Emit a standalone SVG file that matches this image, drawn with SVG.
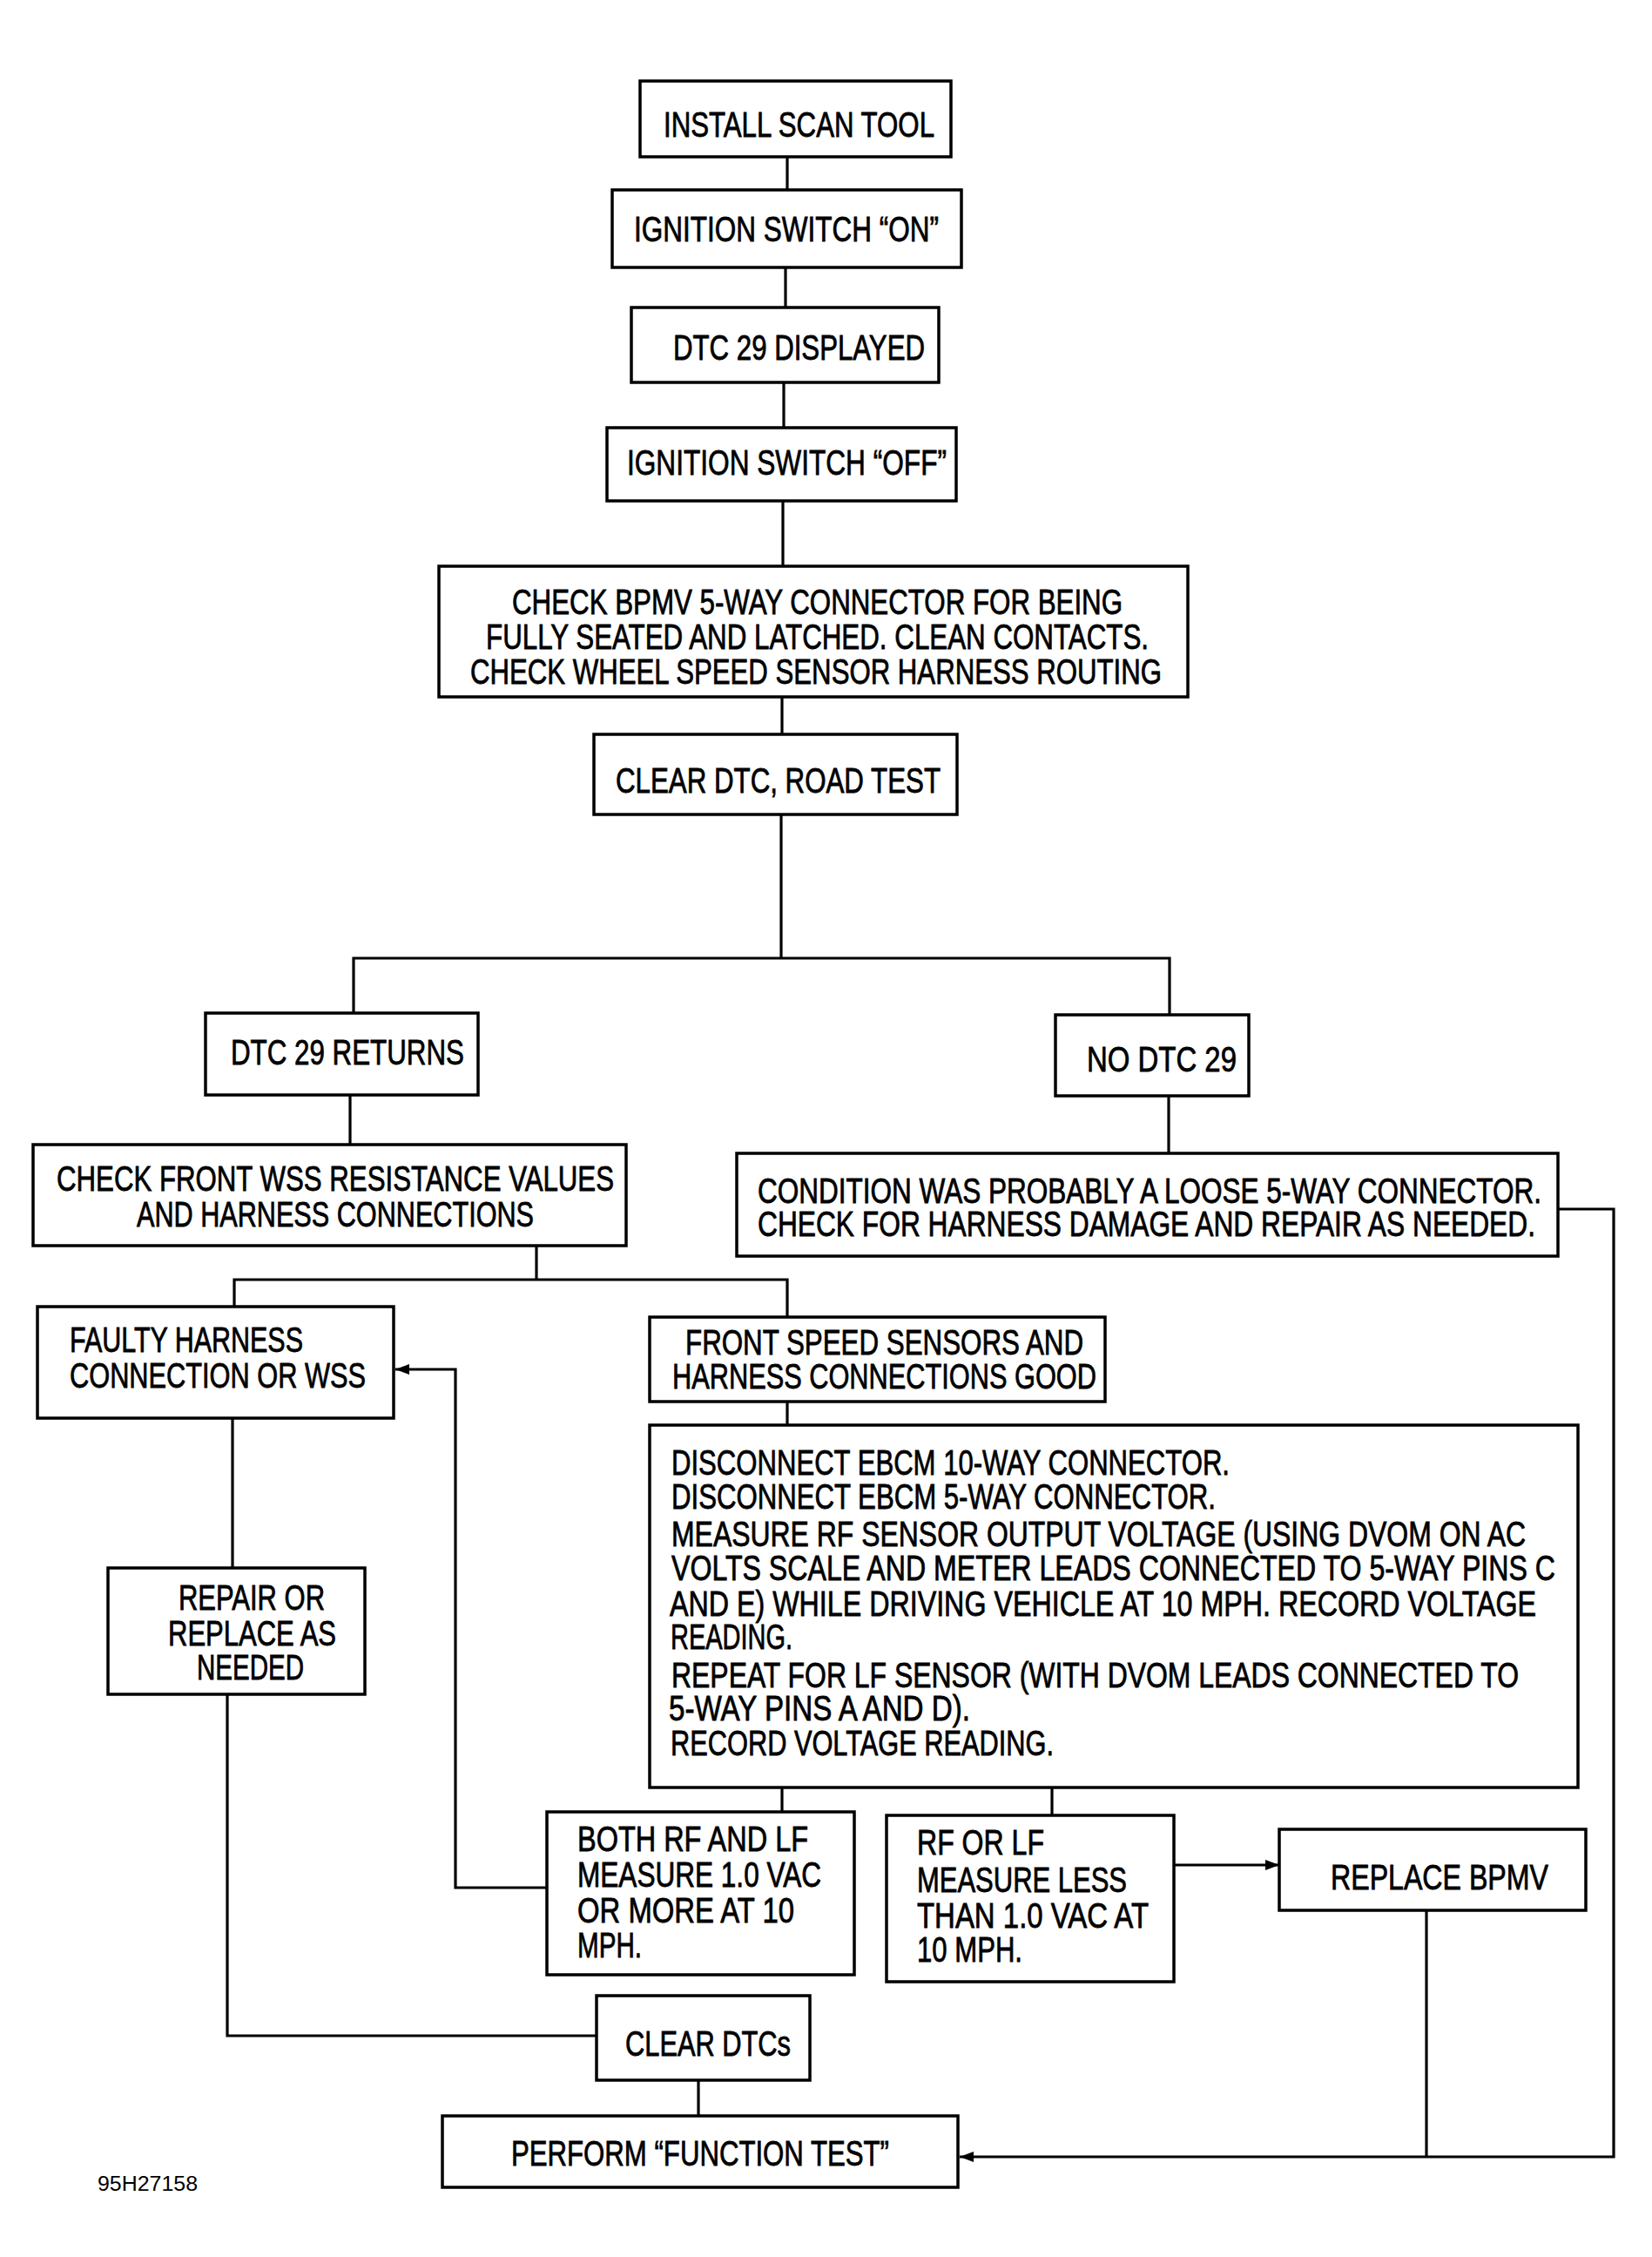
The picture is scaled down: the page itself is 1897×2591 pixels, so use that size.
<svg xmlns="http://www.w3.org/2000/svg" width="1897" height="2591" viewBox="0 0 1897 2591">
<defs>
<style>
.box{fill:#fff;stroke:#000;stroke-width:3.5}
.t{font-family:"Liberation Sans",Arial,sans-serif;font-size:40px;fill:#000;stroke:#000;stroke-width:0.8}
.c{fill:none;stroke:#000;stroke-width:3.2}
.id{font-family:"Liberation Sans",Arial,sans-serif;font-size:23px;fill:#000}
</style>
<marker id="arr" markerUnits="userSpaceOnUse" markerWidth="18" markerHeight="14" refX="16" refY="7" orient="auto">
<path d="M0,1 L16,7 L0,13 Z" fill="#000"/>
</marker>
</defs>
<rect width="1897" height="2591" fill="#fff"/>
<g id="connectors">
<path class="c" d="M904,180 V218"/>
<path class="c" d="M902,307 V353"/>
<path class="c" d="M900,439 V491"/>
<path class="c" d="M899,575 V650"/>
<path class="c" d="M898,800 V843"/>
<path class="c" d="M897,935 V1100"/>
<path class="c" d="M406,1163 V1100 H1343 V1165"/>
<path class="c" d="M402,1257 V1314"/>
<path class="c" d="M1342,1258 V1324"/>
<path class="c" d="M616,1430 V1469"/>
<path class="c" d="M269,1500 V1469 H904 V1512"/>
<path class="c" d="M904,1609 V1636"/>
<path class="c" d="M267,1628 V1800"/>
<path class="c" d="M261,1945 V2337 H685"/>
<path class="c" d="M628,2167 H523 V1572 H454" stroke-width="4" marker-end="url(#arr)"/>
<path class="c" d="M898,2052 V2080"/>
<path class="c" d="M1208,2052 V2084"/>
<path class="c" d="M1348,2141 H1469" marker-end="url(#arr)"/>
<path class="c" d="M1789,1388 H1853 V2476 H1102" marker-end="url(#arr)"/>
<path class="c" d="M1638,2193 V2476"/>
<path class="c" d="M802,2388 V2429"/>
</g>
<g id="n1"><rect class="box" x="735" y="93" width="357" height="87"/>
<text class="t" x="762" y="157" textLength="311" lengthAdjust="spacingAndGlyphs">INSTALL SCAN TOOL</text></g>
<g id="n2"><rect class="box" x="703" y="218" width="401" height="89"/>
<text class="t" x="728" y="277" textLength="350" lengthAdjust="spacingAndGlyphs">IGNITION SWITCH “ON”</text></g>
<g id="n3"><rect class="box" x="725" y="353" width="353" height="86"/>
<text class="t" x="773" y="413" textLength="289" lengthAdjust="spacingAndGlyphs">DTC 29 DISPLAYED</text></g>
<g id="n4"><rect class="box" x="697" y="491" width="401" height="84"/>
<text class="t" x="720" y="545" textLength="367" lengthAdjust="spacingAndGlyphs">IGNITION SWITCH “OFF”</text></g>
<g id="n5"><rect class="box" x="504" y="650" width="860" height="150"/>
<text class="t" x="588" y="705" textLength="701" lengthAdjust="spacingAndGlyphs">CHECK BPMV 5-WAY CONNECTOR FOR BEING</text>
<text class="t" x="558" y="745" textLength="761" lengthAdjust="spacingAndGlyphs">FULLY SEATED AND LATCHED. CLEAN CONTACTS.</text>
<text class="t" x="540" y="785" textLength="794" lengthAdjust="spacingAndGlyphs">CHECK WHEEL SPEED SENSOR HARNESS ROUTING</text></g>
<g id="n6"><rect class="box" x="682" y="843" width="417" height="92"/>
<text class="t" x="707" y="910" textLength="373" lengthAdjust="spacingAndGlyphs">CLEAR DTC, ROAD TEST</text></g>
<g id="n7"><rect class="box" x="236" y="1163" width="313" height="94"/>
<text class="t" x="265" y="1222" textLength="268" lengthAdjust="spacingAndGlyphs">DTC 29 RETURNS</text></g>
<g id="n8"><rect class="box" x="1212" y="1165" width="222" height="93"/>
<text class="t" x="1248" y="1230" textLength="172" lengthAdjust="spacingAndGlyphs">NO DTC 29</text></g>
<g id="n9"><rect class="box" x="38" y="1314" width="681" height="116"/>
<text class="t" x="65" y="1367" textLength="640" lengthAdjust="spacingAndGlyphs">CHECK FRONT WSS RESISTANCE VALUES</text>
<text class="t" x="157" y="1408" textLength="456" lengthAdjust="spacingAndGlyphs">AND HARNESS CONNECTIONS</text></g>
<g id="n10"><rect class="box" x="846" y="1324" width="943" height="118"/>
<text class="t" x="870" y="1381" textLength="900" lengthAdjust="spacingAndGlyphs">CONDITION WAS PROBABLY A LOOSE 5-WAY CONNECTOR.</text>
<text class="t" x="870" y="1419" textLength="893" lengthAdjust="spacingAndGlyphs">CHECK FOR HARNESS DAMAGE AND REPAIR AS NEEDED.</text></g>
<g id="n11"><rect class="box" x="43" y="1500" width="409" height="128"/>
<text class="t" x="80" y="1552" textLength="268" lengthAdjust="spacingAndGlyphs">FAULTY HARNESS</text>
<text class="t" x="80" y="1593" textLength="340" lengthAdjust="spacingAndGlyphs">CONNECTION OR WSS</text></g>
<g id="n12"><rect class="box" x="746" y="1512" width="523" height="97"/>
<text class="t" x="787" y="1555" textLength="457" lengthAdjust="spacingAndGlyphs">FRONT SPEED SENSORS AND</text>
<text class="t" x="772" y="1594" textLength="487" lengthAdjust="spacingAndGlyphs">HARNESS CONNECTIONS GOOD</text></g>
<g id="n13"><rect class="box" x="746" y="1636" width="1066" height="416"/>
<text class="t" x="771" y="1693" textLength="641" lengthAdjust="spacingAndGlyphs">DISCONNECT EBCM 10-WAY CONNECTOR.</text>
<text class="t" x="771" y="1732" textLength="625" lengthAdjust="spacingAndGlyphs">DISCONNECT EBCM 5-WAY CONNECTOR.</text>
<text class="t" x="771" y="1775" textLength="981" lengthAdjust="spacingAndGlyphs">MEASURE RF SENSOR OUTPUT VOLTAGE (USING DVOM ON AC</text>
<text class="t" x="771" y="1814" textLength="1015" lengthAdjust="spacingAndGlyphs">VOLTS SCALE AND METER LEADS CONNECTED TO 5-WAY PINS C</text>
<text class="t" x="769" y="1855" textLength="995" lengthAdjust="spacingAndGlyphs">AND E) WHILE DRIVING VEHICLE AT 10 MPH. RECORD VOLTAGE</text>
<text class="t" x="770" y="1893" textLength="140" lengthAdjust="spacingAndGlyphs">READING.</text>
<text class="t" x="771" y="1937" textLength="973" lengthAdjust="spacingAndGlyphs">REPEAT FOR LF SENSOR (WITH DVOM LEADS CONNECTED TO</text>
<text class="t" x="768" y="1975" textLength="346" lengthAdjust="spacingAndGlyphs">5-WAY PINS A AND D).</text>
<text class="t" x="770" y="2015" textLength="440" lengthAdjust="spacingAndGlyphs">RECORD VOLTAGE READING.</text></g>
<g id="n14"><rect class="box" x="124" y="1800" width="295" height="145"/>
<text class="t" x="205" y="1848" textLength="168" lengthAdjust="spacingAndGlyphs">REPAIR OR</text>
<text class="t" x="193" y="1889" textLength="193" lengthAdjust="spacingAndGlyphs">REPLACE AS</text>
<text class="t" x="226" y="1928" textLength="123" lengthAdjust="spacingAndGlyphs">NEEDED</text></g>
<g id="n15"><rect class="box" x="628" y="2080" width="353" height="187"/>
<text class="t" x="663" y="2125" textLength="265" lengthAdjust="spacingAndGlyphs">BOTH RF AND LF</text>
<text class="t" x="663" y="2166" textLength="280" lengthAdjust="spacingAndGlyphs">MEASURE 1.0 VAC</text>
<text class="t" x="663" y="2207" textLength="249" lengthAdjust="spacingAndGlyphs">OR MORE AT 10</text>
<text class="t" x="663" y="2247" textLength="74" lengthAdjust="spacingAndGlyphs">MPH.</text></g>
<g id="n16"><rect class="box" x="1018" y="2084" width="330" height="191"/>
<text class="t" x="1053" y="2129" textLength="146" lengthAdjust="spacingAndGlyphs">RF OR LF</text>
<text class="t" x="1053" y="2172" textLength="241" lengthAdjust="spacingAndGlyphs">MEASURE LESS</text>
<text class="t" x="1053" y="2213" textLength="266" lengthAdjust="spacingAndGlyphs">THAN 1.0 VAC AT</text>
<text class="t" x="1053" y="2252" textLength="121" lengthAdjust="spacingAndGlyphs">10 MPH.</text></g>
<g id="n17"><rect class="box" x="1469" y="2100" width="352" height="93"/>
<text class="t" x="1528" y="2169" textLength="250" lengthAdjust="spacingAndGlyphs">REPLACE BPMV</text></g>
<g id="n18"><rect class="box" x="685" y="2291" width="245" height="97"/>
<text class="t" x="718" y="2360" textLength="190" lengthAdjust="spacingAndGlyphs">CLEAR DTCs</text></g>
<g id="n19"><rect class="box" x="508" y="2429" width="592" height="82"/>
<text class="t" x="587" y="2486" textLength="434" lengthAdjust="spacingAndGlyphs">PERFORM “FUNCTION TEST”</text></g>
<text class="id" x="112" y="2515" textLength="115" lengthAdjust="spacingAndGlyphs">95H27158</text>
</svg>
